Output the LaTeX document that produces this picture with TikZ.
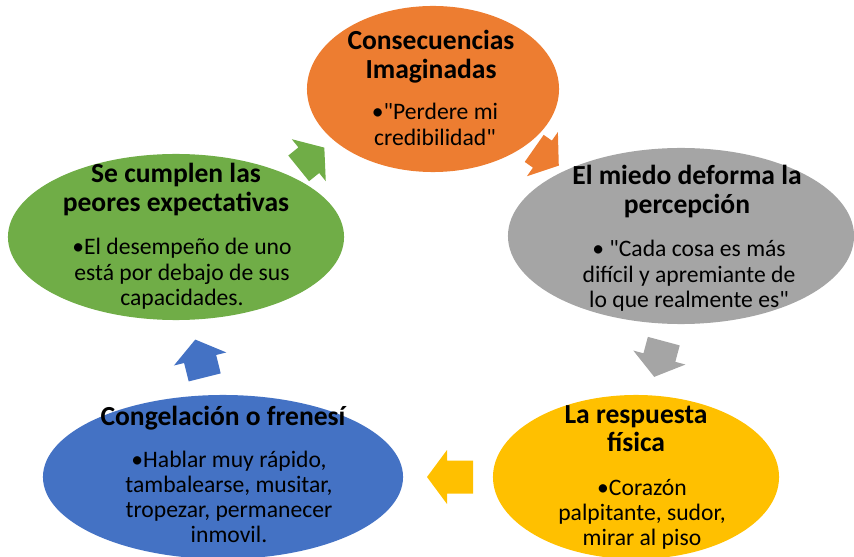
\documentclass[tikz,border=0pt]{standalone}
\usepackage{fontspec}
\setmainfont{Carlito}[Ligatures=TeXOff]
\usetikzlibrary{shapes.geometric}
\definecolor{cOrange}{HTML}{ED7D31}
\definecolor{cGray}{HTML}{A5A5A5}
\definecolor{cYellow}{HTML}{FFC000}
\definecolor{cBlue}{HTML}{4472C4}
\definecolor{cGreen}{HTML}{70AD47}
\begin{document}
\begin{tikzpicture}[x=0.025cm,y=-0.025cm,
    stage/.style={ellipse,inner sep=0pt},
    head/.style={anchor=base,align=flush center,text width=7cm,inner sep=0pt,
      font=\fontsize{19.6}{20.6}\selectfont\bfseries},
    body/.style={anchor=base,align=flush center,text width=7cm,inner sep=0pt,
      font=\fontsize{16.8}{18}\selectfont}]
    \useasboundingbox (0,0) rectangle (854,557);
    % Stages
    \node[stage,fill=cOrange,minimum width=6.3cm,minimum height=4.15cm] (imag) at (433,89) {};
    \node[stage,fill=cGray,minimum width=8.65cm,minimum height=4.4cm] (percep) at (681,236) {};
    \node[stage,fill=cYellow,minimum width=7.15cm,minimum height=4.1cm] (resp) at (636,477) {};
    \node[stage,fill=cBlue,minimum width=9cm,minimum height=4.1cm] (cong) at (223,477) {};
    \node[stage,fill=cGreen,minimum width=8.4cm,minimum height=4.15cm] (cumpl) at (176,237) {};
    % Texts
    \node[head] (imag-t) at (431,50) {Consecuencias\\Imaginadas};
    \node[body] (imag-b) at (435,120) {•"Perdere mi\\credibilidad"};
    \node[head] (percep-t) at (687,185) {El miedo deforma la\\percepción};
    \node[body] (percep-b) at (689,257) {• "Cada cosa es más\\difícil y apremiante de\\lo que realmente es"};
    \node[head] (resp-t) at (636,423) {La respuesta\\física};
    \node[body] (resp-b) at (642,495) {•Corazón\\palpitante, sudor,\\mirar al piso};
    \node[head] (cong-t) at (223,425) {Congelación o frenesí};
    \node[body] (cong-b) at (229,467) {•Hablar muy rápido,\\tambalearse, musitar,\\tropezar, permanecer\\inmovil.};
    \node[head] (cumpl-t) at (176,183) {Se cumplen las\\peores expectativas};
    \node[body] (cumpl-b) at (182,255) {•El desempeño de uno\\está por debajo de sus\\capacidades.};
    % Arrows
    \foreach \pos/\ang/\col/\len in {{546.5,157}/-35/cOrange/30, {659,359}/-105/cGray/37,
        {450,477}/180/cYellow/46, {200,358.5}/-256/cBlue/39, {311.5,158}/-321/cGreen/33}
      \fill[\col,shift={(\pos)},rotate=\ang]
        ({-\len/2},-16.5) -- ({\len/2-20},-16.5) -- ({\len/2-20},-27) -- ({\len/2},0)
        -- ({\len/2-20},27) -- ({\len/2-20},16.5) -- ({-\len/2},16.5) -- cycle;
\end{tikzpicture}
\end{document}
